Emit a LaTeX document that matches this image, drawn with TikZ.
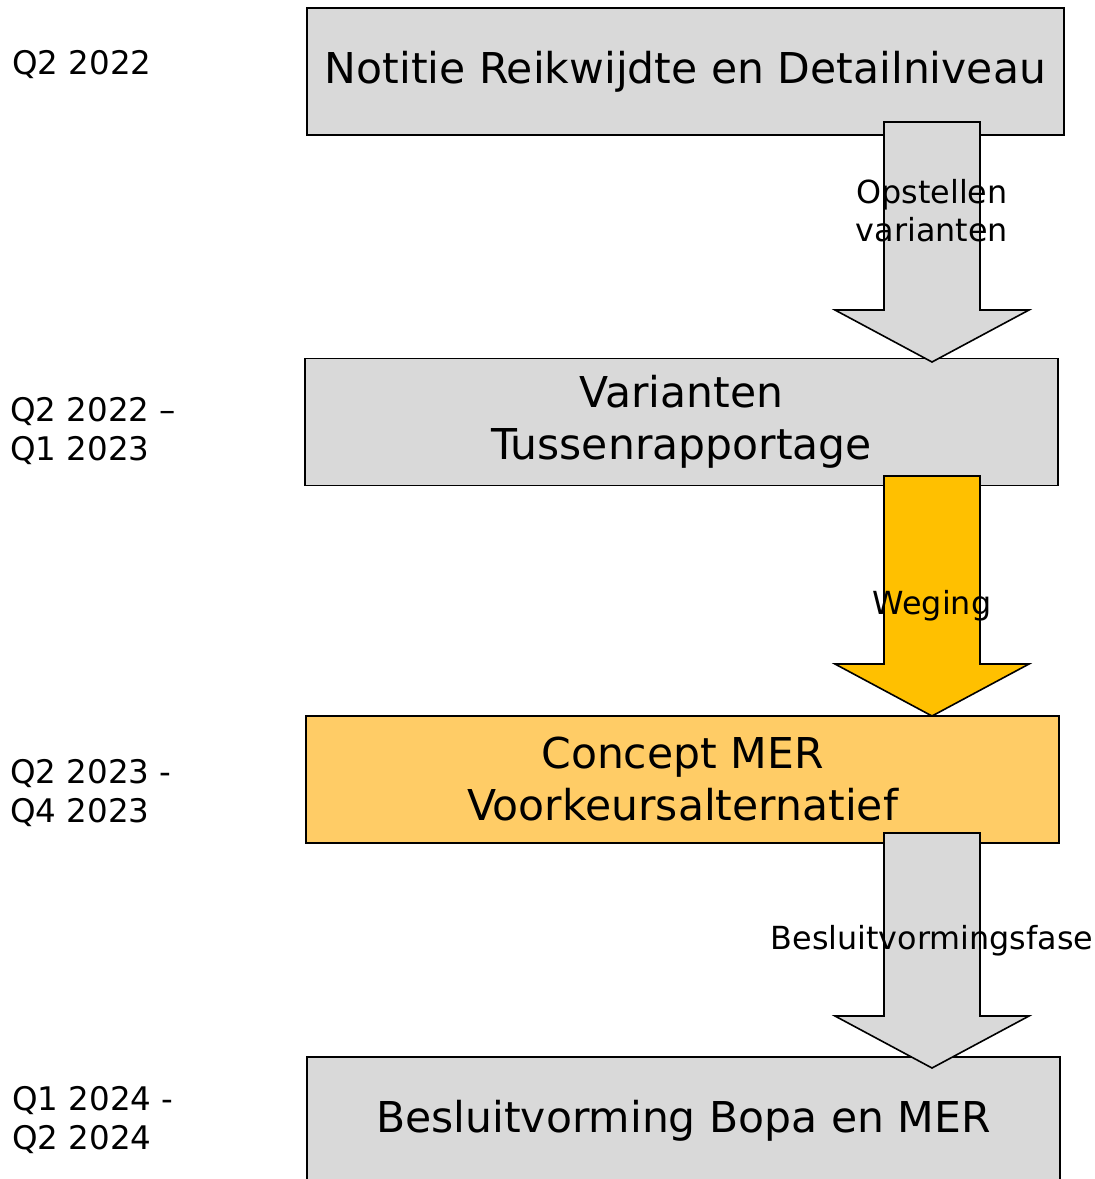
\documentclass[tikz,border=0pt]{standalone}
\usepackage{fontspec}
\setmainfont{DejaVu Sans}
\usetikzlibrary{positioning,calc}

\definecolor{boxgrey}{HTML}{D9D9D9}
\definecolor{boxgold}{HTML}{FFCC66}
\definecolor{arrowgold}{HTML}{FFC000}

\tikzset{
  phase/.style={draw=black, line width=1.6pt, minimum width=753pt, minimum height=127pt,
    align=center, inner sep=0pt, font=\fontsize{42.5}{52}\selectfont},
  period/.style={anchor=west, align=left, inner sep=0pt, font=\fontsize{32.5}{38.5}\selectfont},
  steplabel/.style={align=center, inner sep=0pt, font=\fontsize{31.8}{38}\selectfont},
  blockarrow/.style={draw=black, line width=1.6pt, line join=miter}
}

\begin{document}
\begin{tikzpicture}[x=1pt, y=-1pt]
\useasboundingbox (0,0) rectangle (1095,1179);

% phases
\node[phase, fill=boxgrey, minimum width=757pt] (notitie) at (685.5,71.5) {Notitie Reikwijdte en Detailniveau};
\node[phase, fill=boxgrey] (varianten) at (681.5,422) {Varianten\\Tussenrapportage};
\node[phase, fill=boxgold] (concept) at (682.5,779.5) {Concept MER\\Voorkeursalternatief};
\node[phase, fill=boxgrey] (besluit) at (683.5,1120.5) {Besluitvorming Bopa en MER};

% periods
\node[period] (p1) at (12,65) {Q2 2022};
\node[period] (p2) at (10,431) {Q2 2022 –\\Q1 2023};
\node[period] (p3) at (10,793) {Q2 2023 -\\Q4 2023};
\node[period] (p4) at (12,1120) {Q1 2024 -\\Q2 2024};

% block arrows
\coordinate (a1top) at (932,122);
\coordinate (a1tip) at (932,362);
\coordinate (a2top) at (932,476);
\coordinate (a2tip) at (932,716);
\coordinate (a3top) at (932,833);
\coordinate (a3tip) at (932,1068);

\foreach \top/\tip/\col in {a1top/a1tip/boxgrey, a2top/a2tip/arrowgold, a3top/a3tip/boxgrey}
  \draw[blockarrow, fill=\col] ($(\top)+(-48,0)$) -- ($(\top)+(48,0)$) -- ($(\tip)+(48,-52)$)
    -- ($(\tip)+(97,-52)$) -- (\tip) -- ($(\tip)+(-97,-52)$) -- ($(\tip)+(-48,-52)$) -- cycle;

% arrow labels
\node[steplabel] (opstellen) at (932,211) {Opstellen\\varianten};
\node[steplabel] (weging) at (932,606) {Weging};
\node[steplabel] (fase) at (932,941) {Besluitvormingsfase};
\end{tikzpicture}
\end{document}
